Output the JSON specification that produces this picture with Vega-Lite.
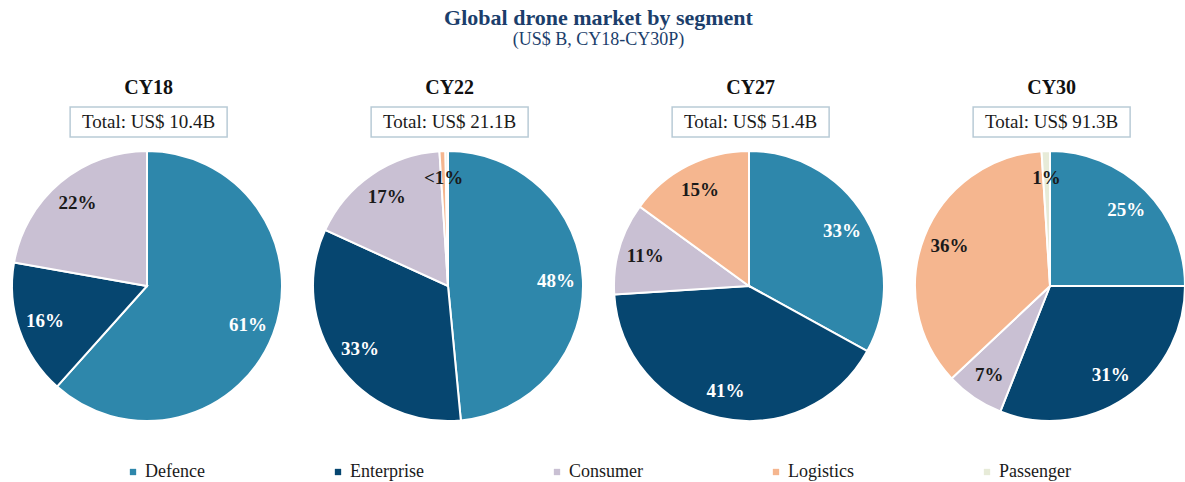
{
  "$schema": "https://vega.github.io/schema/vega-lite/v6.json",
  "padding": {"left": 8, "top": 7, "right": 0, "bottom": 0},
  "background": "white",
  "title": {
    "text": "Global drone market by segment",
    "subtitle": "(US$ B, CY18-CY30P)",
    "anchor": "middle",
    "font": "Liberation Serif",
    "fontSize": 22,
    "fontWeight": "bold",
    "color": "#1b3e6b",
    "subtitleFont": "Liberation Serif",
    "subtitleFontSize": 18,
    "subtitleColor": "#1b3e6b",
    "subtitlePadding": 1,
    "offset": 28
  },
  "datasets": {
    "totals": [
      {"year": "CY18", "total": "Total: US$ 10.4B"},
      {"year": "CY22", "total": "Total: US$ 21.1B"},
      {"year": "CY27", "total": "Total: US$ 51.4B"},
      {"year": "CY30", "total": "Total: US$ 91.3B"}
    ],
    "shares": [
      {"year": "CY18", "segment": "Defence", "rank": 1, "value": 61, "label": "61%"},
      {"year": "CY18", "segment": "Enterprise", "rank": 2, "value": 16, "label": "16%"},
      {"year": "CY18", "segment": "Consumer", "rank": 3, "value": 22, "label": "22%"},
      {"year": "CY22", "segment": "Defence", "rank": 1, "value": 48, "label": "48%"},
      {"year": "CY22", "segment": "Enterprise", "rank": 2, "value": 33, "label": "33%"},
      {"year": "CY22", "segment": "Consumer", "rank": 3, "value": 17, "label": "17%"},
      {"year": "CY22", "segment": "Logistics", "rank": 4, "value": 0.7, "label": "<1%"},
      {"year": "CY22", "segment": "Passenger", "rank": 5, "value": 0.3, "label": ""},
      {"year": "CY27", "segment": "Defence", "rank": 1, "value": 33, "label": "33%"},
      {"year": "CY27", "segment": "Enterprise", "rank": 2, "value": 41, "label": "41%"},
      {"year": "CY27", "segment": "Consumer", "rank": 3, "value": 11, "label": "11%"},
      {"year": "CY27", "segment": "Logistics", "rank": 4, "value": 15, "label": "15%"},
      {"year": "CY30", "segment": "Defence", "rank": 1, "value": 25, "label": "25%"},
      {"year": "CY30", "segment": "Enterprise", "rank": 2, "value": 31, "label": "31%"},
      {"year": "CY30", "segment": "Consumer", "rank": 3, "value": 7, "label": "7%"},
      {"year": "CY30", "segment": "Logistics", "rank": 4, "value": 36, "label": "36%"},
      {"year": "CY30", "segment": "Passenger", "rank": 5, "value": 1, "label": "1%"}
    ]
  },
  "vconcat": [
    {
      "data": {"name": "totals"},
      "bounds": "flush",
      "facet": {
        "column": {
          "field": "year",
          "type": "nominal",
          "header": {
            "title": null,
            "labelFont": "Liberation Serif",
            "labelFontSize": 20,
            "labelFontWeight": "bold",
            "labelColor": "#111111",
            "labelPadding": 9
          }
        }
      },
      "spacing": 144,
      "spec": {
        "width": 157,
        "height": 30,
        "view": {"stroke": "#b9cbd6", "strokeWidth": 1.5},
        "mark": {"type": "text", "font": "Liberation Serif", "fontSize": 19, "color": "#1a1a1a"},
        "encoding": {"text": {"field": "total", "type": "nominal"}}
      }
    },
    {
      "data": {"name": "shares"},
      "bounds": "flush",
      "facet": {
        "column": {"field": "year", "type": "nominal", "header": {"title": null, "labels": false}}
      },
      "spacing": 31,
      "spec": {
        "width": 270,
        "height": 270,
        "view": {"stroke": null},
        "encoding": {
          "theta": {"field": "value", "type": "quantitative", "stack": true},
          "order": {"field": "rank", "type": "quantitative"}
        },
        "layer": [
          {
            "mark": {"type": "arc", "outerRadius": 135, "stroke": "white", "strokeWidth": 2},
            "encoding": {
              "color": {
                "field": "segment",
                "type": "nominal",
                "scale": {
                  "domain": ["Defence", "Enterprise", "Consumer", "Logistics", "Passenger"],
                  "range": ["#2e87ab", "#064670", "#c9c0d3", "#f5b68f", "#e7ebd8"]
                },
                "legend": {
                  "title": null,
                  "orient": "none",
                  "legendX": 112,
                  "legendY": 356,
                  "direction": "horizontal",
                  "columns": 5,
                  "gridAlign": "none",
                  "columnPadding": 124,
                  "symbolType": "square",
                  "symbolSize": 40,
                  "symbolStrokeWidth": 0,
                  "labelFont": "Liberation Serif",
                  "labelFontSize": 18,
                  "labelColor": "#1a1a1a",
                  "labelOffset": 3
                }
              }
            }
          },
          {
            "mark": {"type": "text", "radius": 108, "font": "Liberation Serif", "fontSize": 19, "fontWeight": "bold"},
            "encoding": {
              "text": {"field": "label", "type": "nominal"},
              "color": {
                "condition": {"test": "datum.segment == 'Defence' || datum.segment == 'Enterprise'", "value": "white"},
                "value": "#1a1a1a"
              }
            }
          }
        ]
      }
    }
  ],
  "spacing": 9,
  "center": true,
  "config": {"view": {"stroke": null}}
}
